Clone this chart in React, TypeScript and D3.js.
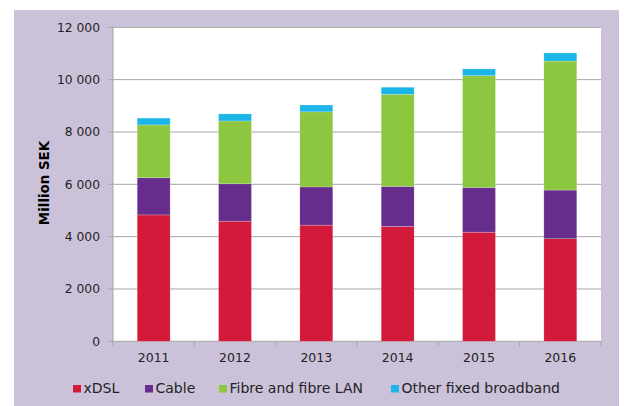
import React from "react";
import * as d3 from "d3";

const years = ["2011", "2012", "2013", "2014", "2015", "2016"];
const xdsl = [4830, 4590, 4440, 4390, 4170, 3920];
const cable = [1420, 1430, 1460, 1530, 1710, 1860];
const fibre = [2020, 2400, 2870, 3520, 4270, 4930];
const other = [260, 270, 260, 270, 260, 310];
const seriesNames = ["xDSL", "Cable", "Fibre and fibre LAN", "Other fixed broadband"];
const seriesColors = ["#D31A3A", "#662D8C", "#8DC63F", "#1BB5E8"];
const yTicks = [0, 2000, 4000, 6000, 8000, 10000, 12000];

const W = 624;
const H = 406;
const left = 113;
const right = 601;
const top = 27.3;
const bottom = 341.3;

export default function App() {
  const x = d3.scaleBand<string>().domain(years).range([left, right]).paddingInner(0.595).paddingOuter(0.2975);
  const y = d3.scaleLinear().domain([0, 12000]).range([bottom, top]);
  const rows = years.map((yr, i) => ({ year: yr, xDSL: xdsl[i], Cable: cable[i], "Fibre and fibre LAN": fibre[i], "Other fixed broadband": other[i] }));
  const stack = d3.stack<any>().keys(seriesNames)(rows);
  const fmt = (v: number) => d3.format(",")(v).replace(/,/g, " ");
  const step = (right - left) / years.length;
  const boundaries = d3.range(years.length + 1).map((i) => left + i * step);

  const legendX = [73, 145, 219, 391];

  return (
    <svg width={W} height={H} style={{ position: "absolute", left: 0, top: 0 }} fontFamily="DejaVu Sans, Verdana, sans-serif">
      <rect x={0} y={0} width={W} height={H} fill="#ffffff" />
      <rect x={14} y={10} width={605} height={H - 10} fill="#CBC2DA" />
      <rect x={left} y={top} width={right - left} height={bottom - top} fill="#ffffff" />
      {yTicks.map((t) => (
        <g key={t}>
          <line x1={left} x2={right} y1={y(t)} y2={y(t)} stroke="#A6A6A6" strokeWidth={1} />
          <line x1={left - 5} x2={left} y1={y(t)} y2={y(t)} stroke="#A6A6A6" strokeWidth={1} />
          <text x={100} y={y(t)} dy="0.36em" textAnchor="end" fontSize={12.3} fill="#222">
            {fmt(t)}
          </text>
        </g>
      ))}
      <line x1={left} x2={left} y1={top} y2={bottom} stroke="#A6A6A6" strokeWidth={1} />
      {boundaries.map((b, i) => (
        <line key={i} x1={b} x2={b} y1={bottom} y2={bottom + 5} stroke="#A6A6A6" strokeWidth={1} />
      ))}
      {stack.map((s, si) => (
        <g key={si} fill={seriesColors[si]}>
          {s.map((d, i) => (
            <rect
              key={i}
              x={x(years[i])}
              width={x.bandwidth()}
              y={y(d[1])}
              height={y(d[0]) - y(d[1])}
              stroke="#ffffff"
              strokeOpacity={0.35}
              strokeWidth={0.6}
            />
          ))}
        </g>
      ))}
      {years.map((yr) => (
        <text key={yr} x={(x(yr) as number) + x.bandwidth() / 2} y={362} textAnchor="middle" fontSize={12.5} fill="#222">
          {yr}
        </text>
      ))}
      <text transform={`translate(48.5,183) rotate(-90)`} textAnchor="middle" fontSize={13.4} fontWeight="bold" fill="#000">
        Million SEK
      </text>
      {seriesNames.map((n, i) => (
        <g key={n}>
          <rect x={legendX[i]} y={385} width={8} height={7.5} fill={seriesColors[i]} />
          <text x={legendX[i] + 10.5} y={393.3} fontSize={14} fill="#222">
            {n}
          </text>
        </g>
      ))}
    </svg>
  );
}
